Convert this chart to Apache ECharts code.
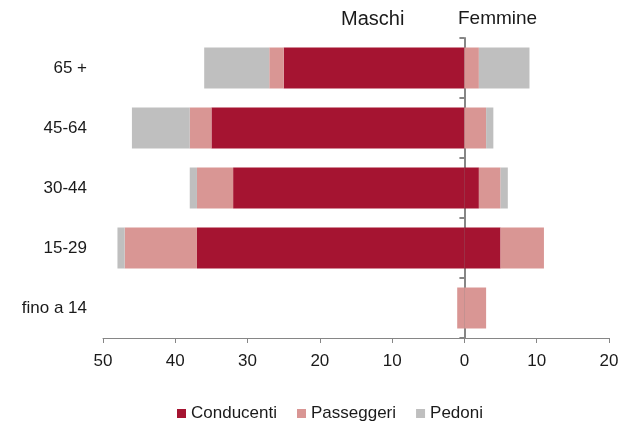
<!DOCTYPE html>
<html>
<head>
<meta charset="utf-8">
<script src="https://cdn.jsdelivr.net/npm/echarts@6/dist/echarts.min.js"></script>
<style>
  html, body { margin: 0; padding: 0; background: #fff; }
  #chart { width: 627px; height: 421px; }
</style>
</head>
<body>
<div id="chart"></div>
<script>
// categorie, dal basso verso l'alto
var categories = ['fino a 14', '15-29', '30-44', '45-64', '65 +'];
var seriesNames = ['Conducenti', 'Passeggeri', 'Pedoni'];
var colors = ['#A51431', '#D99694', '#BFBFBF'];

// maschi (valori positivi, disegnati a sinistra)
var maschiConducenti = [0, 37, 32, 35, 25];
var maschiPasseggeri = [1, 10, 5, 3, 2];
var maschiPedoni = [0, 1, 1, 8, 9];

// femmine
var femmineConducenti = [0, 5, 2, 0, 0];
var femminePasseggeri = [3, 6, 3, 3, 2];
var femminePedoni = [0, 0, 1, 1, 7];

var maschi = [maschiConducenti, maschiPasseggeri, maschiPedoni];
var femmine = [femmineConducenti, femminePasseggeri, femminePedoni];

var font = 'Liberation Sans';
var chart = echarts.init(document.getElementById('chart'));

var series = [];
for (var i = 0; i < 3; i++) {
  series.push({
    name: seriesNames[i],
    type: 'bar',
    stack: 'tot',
    barWidth: 41,
    itemStyle: { color: colors[i] },
    data: maschi[i].map(function (v) { return -v; })
  });
  series.push({
    name: seriesNames[i],
    type: 'bar',
    stack: 'tot',
    barWidth: 41,
    itemStyle: { color: colors[i] },
    data: femmine[i]
  });
}

var option = {
  animation: false,
  textStyle: { fontFamily: font },
  grid: { left: 103, right: 18, top: 38, bottom: 83 },
  legend: {
    data: seriesNames,
    top: 400,
    left: 172,
    icon: 'rect',
    itemWidth: 9,
    itemHeight: 9,
    itemGap: 20,
    textStyle: { fontFamily: font, fontSize: 17, color: '#1a1a1a' }
  },
  graphic: [
    { type: 'text', left: 341, top: 9, style: { text: 'Maschi', fontFamily: font, fontSize: 20, fill: '#1a1a1a' } },
    { type: 'text', left: 458, top: 9, style: { text: 'Femmine', fontFamily: font, fontSize: 19, fill: '#1a1a1a' } }
  ],
  xAxis: {
    type: 'value',
    min: -50,
    max: 20,
    interval: 10,
    splitLine: { show: false },
    axisLine: { show: true, onZero: false, lineStyle: { color: '#868686', width: 1 } },
    axisTick: { show: true, length: 5, lineStyle: { color: '#868686' } },
    axisLabel: {
      margin: 15,
      fontSize: 17,
      color: '#1a1a1a',
      formatter: function (v) { return Math.abs(v); }
    }
  },
  yAxis: [
    {
      type: 'category',
      data: categories,
      axisLine: { show: false, onZero: false },
      axisTick: { show: false },
      axisLabel: { margin: 16, fontSize: 17, color: '#1a1a1a' }
    },
    {
      type: 'category',
      data: categories,
      position: 'left',
      axisLine: { show: true, onZero: true, lineStyle: { color: '#868686', width: 2 } },
      axisTick: { show: true, length: 5, lineStyle: { color: '#868686', width: 2 } },
      axisLabel: { show: false }
    }
  ],
  series: series
};

chart.setOption(option);
</script>
</body>
</html>
